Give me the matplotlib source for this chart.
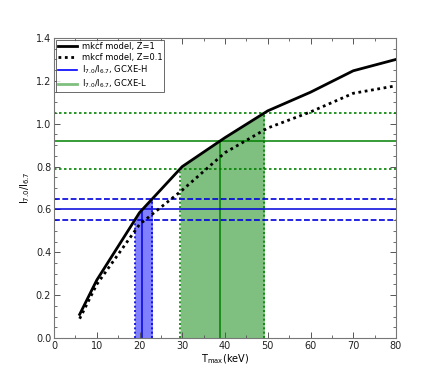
import numpy as np
import matplotlib
matplotlib.use("Agg")
import matplotlib.pyplot as plt
from matplotlib.lines import Line2D

# model curves
T_model = [6, 10, 20, 30, 40, 50, 60, 70, 80]
ratio_z1 = [0.11, 0.27, 0.585, 0.80, 0.935, 1.06, 1.147, 1.247, 1.30]
ratio_z01 = [0.09, 0.25, 0.53, 0.69, 0.865, 0.98, 1.055, 1.142, 1.177]

# observed ratios: (low, best, high)
gcxe_h = [0.55, 0.60, 0.65]
gcxe_l = [0.79, 0.92, 1.05]

labels = ['mkcf model, Z=1', 'mkcf model, Z=0.1',
          r'I$_{7.0}$/I$_{6.7}$, GCXE-H', r'I$_{7.0}$/I$_{6.7}$, GCXE-L']

plt.rcParams['font.family'] = ['DejaVu Sans']
plt.rcParams['mathtext.default'] = 'regular'

fig = plt.figure(figsize=(4.41, 3.76), dpi=100)
ax = fig.add_axes([54/441, 38/376, 342/441, 300/376])

tm = np.array(T_model, float)
r1 = np.array(ratio_z1, float)

def tcross(level):
    return float(np.interp(level, r1, tm))

def draw_band(levels, color, fillc, vstyle, hstyle):
    lo, best, hi = levels
    x_lo, x_b, x_hi = tcross(lo), tcross(best), tcross(hi)
    inner = tm[(tm > x_lo) & (tm < x_hi)]
    xs = np.concatenate([[x_lo], inner, [x_hi]])
    ys = np.interp(xs, tm, r1)
    ax.fill_between(xs, 0, ys, color=fillc, alpha=0.5, lw=0, zorder=1)
    for lev, x in ((lo, x_lo), (hi, x_hi)):
        ax.axhline(lev, color=color, lw=1.2, dashes=hstyle, zorder=2)
        ax.plot([x, x], [0, lev], color=color, lw=1.2, dashes=vstyle, zorder=2)
    ax.axhline(best, color=color, lw=1.1, zorder=2)
    ax.plot([x_b, x_b], [0, best], color=color, lw=1.1, zorder=2)

draw_band(gcxe_l, '#008000', 'green', (1.2, 1.4), (1.5, 1.5))
draw_band(gcxe_h, '#0000dd', 'blue', (1.2, 1.4), (3.5, 1.5))

ax.plot(T_model, ratio_z1, color='black', lw=2, zorder=3)
ax.plot(T_model, ratio_z01, color='black', lw=2, dashes=(1, 1.3), zorder=3)

ax.set_xlim(0, 80)
ax.set_ylim(0, 1.4)
ax.set_xticks(np.arange(0, 81, 10))
ax.set_xticks(np.arange(0, 81, 5), minor=True)
ax.set_yticks(np.arange(0, 1.41, 0.2))
ax.set_yticks(np.arange(0, 1.41, 0.05), minor=True)
ax.yaxis.set_major_formatter(matplotlib.ticker.FormatStrFormatter('%.1f'))
ax.tick_params(which='both', direction='in', top=True, right=True,
               colors='#555555', labelcolor='#222222', labelsize=7, pad=2)
ax.tick_params(which='major', length=4, width=0.7)
ax.tick_params(which='minor', length=2, width=0.6)
for s in ax.spines.values():
    s.set_color('#777777')
    s.set_linewidth(0.8)

ax.set_xlabel(r'T$_{max}$(keV)', fontsize=7, labelpad=1)
ax.set_ylabel(r'I$_{7.0}$/I$_{6.7}$', fontsize=7, labelpad=3)

handles = [Line2D([], [], color='black', lw=2),
           Line2D([], [], color='black', lw=2, dashes=(1, 1.3)),
           Line2D([], [], color='blue', lw=1.2),
           Line2D([], [], color='green', alpha=0.5, lw=2)]
leg = ax.legend(handles, labels, loc='upper left', fontsize=6,
                frameon=True, fancybox=False, borderaxespad=0.25,
                handlelength=2.2, labelspacing=0.2, borderpad=0.25,
                handletextpad=0.6)
leg.get_frame().set_edgecolor('#444444')
leg.get_frame().set_linewidth(0.7)

fig.savefig('out.png', dpi=100)
